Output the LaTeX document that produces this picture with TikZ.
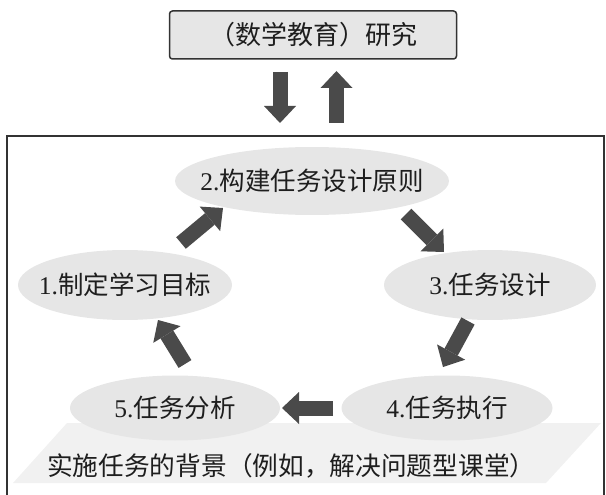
\documentclass[tikz,border=0pt]{standalone}
\usepackage{fontspec}
\setmainfont{Liberation Serif}
\newfontfamily\cjk{Noto Sans CJK SC}
\usetikzlibrary{arrows.meta,shapes.geometric}
\definecolor{ellgray}{HTML}{E6E6E6}
\definecolor{bandgray}{HTML}{F1F1F1}
\definecolor{arrgray}{HTML}{4A4A4A}
\definecolor{framegray}{HTML}{333333}
\definecolor{textgray}{HTML}{1E1E1E}
\begin{document}
\begin{tikzpicture}[x=1pt,y=-1pt,
  stage/.style={ellipse, fill=ellgray, inner sep=0pt},
  stagetext/.style={inner sep=0pt, text=textgray,
    font=\fontsize{25.5}{25.5}\selectfont\cjk},
  blockarrow/.style={draw=arrgray, line width=15pt,
    -{Triangle[width=32pt,length=17pt,line width=0pt]}},
  framebox/.style={draw=framegray, line width=1.2pt},
]
\useasboundingbox (0,0) rectangle (606,495);

% outer frame
\draw[framebox] (7,500) -- (7,136) -- (604,136) -- (604,500);

% context band
\fill[bandgray] (13,483) -- (67,423) -- (601,423) -- (546,483) -- cycle;
\node[anchor=west, inner sep=0pt, text=textgray,
  font=\fontsize{25.7}{25.7}\selectfont\cjk] (ctx) at (47,466)
  {实施任务的背景（例如，解决问题型课堂）};

% research box
\node[draw=framegray, line width=1.5pt, fill=ellgray, rounded corners=3pt,
  minimum width=287pt, minimum height=48pt, inner sep=0pt, text=textgray,
  font=\fontsize{26}{26}\selectfont\cjk] (research) at (313,35)
  {（数学教育）研究};

% stages
\node[stage, minimum width=214pt, minimum height=70pt] (e1) at (125,285) {};
\node[stage, minimum width=274pt, minimum height=68pt] (e2) at (312,181) {};
\node[stage, minimum width=212pt, minimum height=70pt] (e3) at (490,285) {};
\node[stage, minimum width=211pt, minimum height=65pt] (e4) at (447,408) {};
\node[stage, minimum width=210pt, minimum height=65pt] (e5) at (175,408) {};
\node[stagetext] (t1) at (e1.center) {{\rmfamily 1.}制定学习目标};
\node[stagetext] (t2) at (e2.center) {{\rmfamily 2.}构建任务设计原则};
\node[stagetext] (t3) at (e3.center) {{\rmfamily 3.}任务设计};
\node[stagetext] (t4) at (e4.center) {{\rmfamily 4.}任务执行};
\node[stagetext] (t5) at (e5.center) {{\rmfamily 5.}任务分析};

% arrow end points
\coordinate (dn1) at (280,72);    \coordinate (dn2) at (280,123);
\coordinate (up1) at (336.5,123); \coordinate (up2) at (336.5,71);
\coordinate (a12s) at (181,243);  \coordinate (a12e) at (223,208);
\coordinate (a23s) at (406,214);  \coordinate (a23e) at (444,252);
\coordinate (a34s) at (468,321);  \coordinate (a34e) at (443,367);
\coordinate (a45s) at (333,408);  \coordinate (a45e) at (282,408);
\coordinate (a51s) at (185,364);  \coordinate (a51e) at (158,320);

\draw[blockarrow] (dn1) -- (dn2);
\draw[blockarrow] (up1) -- (up2);
\draw[blockarrow] (a12s) -- (a12e);
\draw[blockarrow] (a23s) -- (a23e);
\draw[blockarrow] (a34s) -- (a34e);
\draw[blockarrow] (a45s) -- (a45e);
\draw[blockarrow] (a51s) -- (a51e);
\end{tikzpicture}
\end{document}
